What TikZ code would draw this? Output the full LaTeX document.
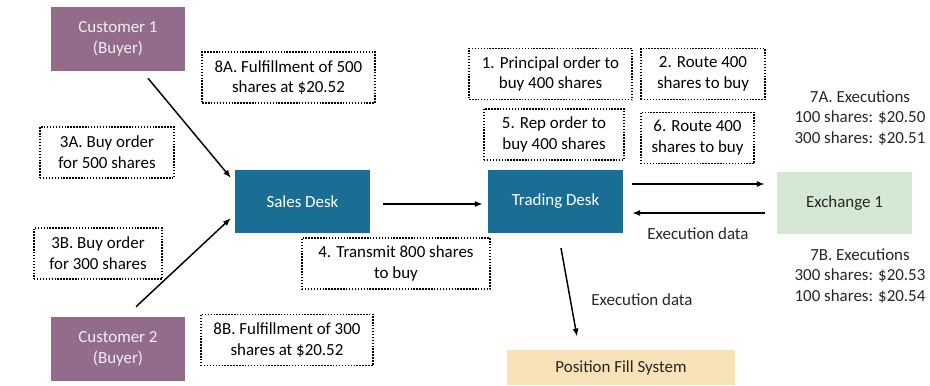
\documentclass[tikz,border=0pt]{standalone}
\usepackage{fontspec}
\setmainfont{Carlito}
\usetikzlibrary{calc,arrows.meta}
\definecolor{custpurple}{HTML}{946C8B}
\definecolor{deskblue}{HTML}{1A6E94}
\definecolor{exgreen}{HTML}{D5E8D4}
\definecolor{fillsand}{HTML}{F8E2B7}
\tikzset{
	box/.style={inner sep=0pt, align=center, font=\fontsize{12.7}{15.6}\selectfont},
	cust/.style={box, fill=custpurple, text=white!94!black, minimum width=100.5pt, minimum height=48pt},
	desk/.style={box, fill=deskblue, text=white, minimum width=101pt, minimum height=47pt},
	note/.style={box, draw=black, line width=1.1pt, dash pattern=on 1.1pt off 1.1pt, minimum height=38.5pt},
	plain/.style={box, text=black!85},
	arr/.style={-{Latex[length=6pt,width=4.5pt]}, line width=1.1pt}
}

\begin{document}
\begin{tikzpicture}[x=0.75pt, y=-0.75pt]
				\useasboundingbox (0,0) rectangle (930,385);
				
				\node[cust] (cust1) at (118,39) {Customer 1\\(Buyer)};
				\node[cust] (cust2) at (118,349) {Customer 2\\(Buyer)};
				\node[desk] (sales) at (302.5,201.5) {Sales Desk};
				\node[desk] (trading) at (555.5,201.5) {Trading Desk};
				\node[box, fill=exgreen, text=black!85, minimum width=101pt, minimum height=46.5pt] (exch) at (844.5,203) {Exchange 1};
				\node[box, fill=fillsand, text=black!85, minimum width=171pt, minimum height=26.5pt] (pfs) at (621,367.5) {Position Fill System};
				
				\node[note, minimum width=129.5pt] (fill8a) at (288.5,77.5) {8A. Fulfillment of 500\\shares at \$20.52};
				\node[note, minimum width=100.5pt] (buy3a) at (107,152.5) {3A. Buy order\\for 500 shares};
				\node[note, minimum width=96pt] (buy3b) at (98,253.5) {3B. Buy order\\for 300 shares};
				\node[note, minimum width=129pt] (fill8b) at (287,340) {8B. Fulfillment of 300\\shares at \$20.52};
				\node[note, minimum width=141pt] (transmit4) at (396,263.5) {4. Transmit 800 shares\\to buy};
				\node[note, minimum width=122pt] (principal1) at (550.5,74) {1. Principal order to\\buy 400 shares};
				\node[note, minimum width=93pt] (route2) at (703,74) {2. Route 400\\shares to buy};
				\node[note, minimum width=105pt] (rep5) at (554,134.5) {5. Rep order to\\buy 400 shares};
				\node[note, minimum width=85pt] (route6) at (697.5,138) {6. Route 400\\shares to buy};
				
				\node[plain] (exec7a) at (860,118) {7A. Executions\\100 shares: \$20.50\\300 shares: \$20.51};
				\node[plain] (exec7b) at (860,276) {7B. Executions\\300 shares: \$20.53\\100 shares: \$20.54};
				\node[plain] (exdata1) at (698,234) {Execution data};
				\node[plain] (exdata2) at (642,300) {Execution data};
				
				\draw[arr] ($(cust1.south)+(30,7)$) -- ($(sales.north west)+(-4,8)$);
				\draw[arr] ($(cust2.north)+(18,-10)$) -- ($(sales.south west)+(-4,-15)$);
				\draw[arr] ($(sales.east)+(13,2.5)$) -- ($(trading.west)+(-5,2.5)$);
				\draw[arr] ($(trading.east)+(9,-17.5)$) -- ($(exch.west)+(-12,-19)$);
				\draw[arr] ($(exch.west)+(-12,10)$) -- ($(trading.east)+(9,11.5)$);
				\draw[arr] ($(trading.south)+(5.5,15)$) -- ($(pfs.north)+(-44,-13)$);
			\end{tikzpicture}
\end{document}
